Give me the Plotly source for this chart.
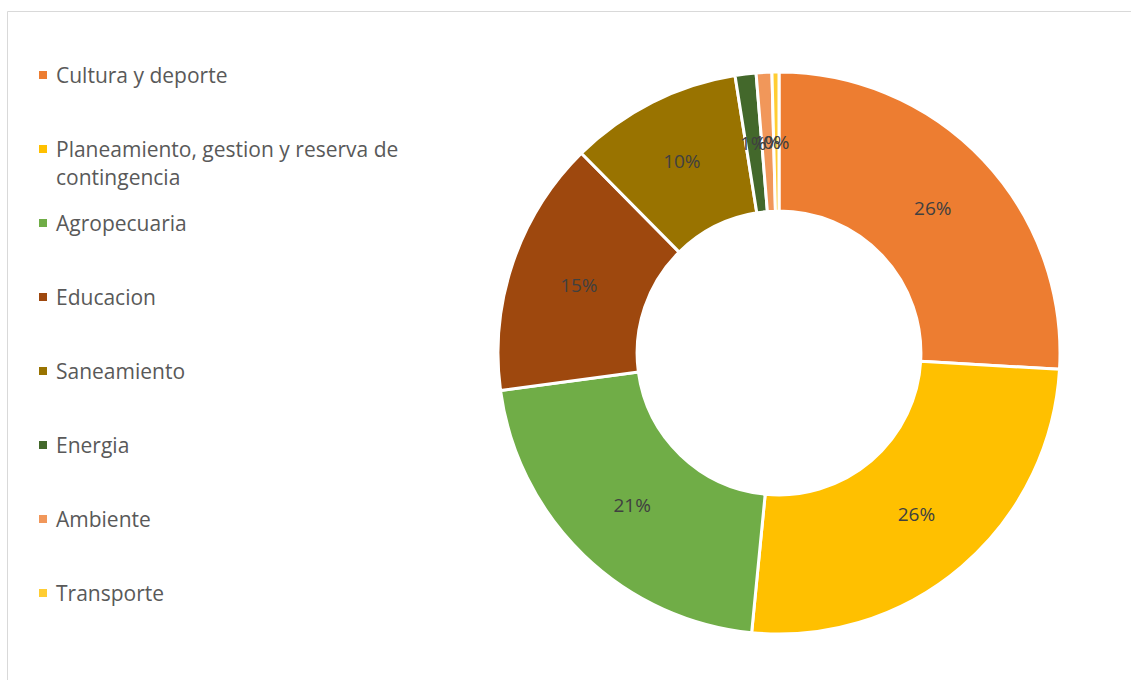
import math
import plotly.graph_objects as go

categories = ["Cultura y deporte", "Planeamiento, gestion y reserva de contingencia",
              "Agropecuaria", "Educacion", "Saneamiento", "Energia", "Ambiente", "Transporte"]
legend_lines = ["Cultura y deporte", "Planeamiento, gestion y reserva de<br>contingencia",
                "Agropecuaria", "Educacion", "Saneamiento", "Energia", "Ambiente", "Transporte"]
values = [25.9, 25.6, 21.3, 14.7, 9.9, 1.2, 0.9, 0.4]
colors = ["#ED7D31", "#FFC000", "#70AD47", "#9E480E", "#997300", "#43682B", "#F1975A", "#FFCD33"]

W, H = 1131, 680
cx, cy, R = 779, 353, 281
HOLE = 0.505
SMALL = 3.0  # slices below this share get their label drawn at mid-ring by annotation

total = sum(values)
templates = ["%{percent:.0%}" if v / total * 100 >= SMALL else "" for v in values]

fig = go.Figure(go.Pie(
    labels=categories, values=values, sort=False, direction="clockwise", rotation=0,
    hole=HOLE, marker=dict(colors=colors, line=dict(color="white", width=3)),
    texttemplate=templates, textposition="inside", insidetextorientation="horizontal",
    textfont=dict(family="Open Sans", size=19, color="#404040"),
    domain=dict(x=[(cx - R) / W, (cx + R) / W], y=[(H - cy - R) / H, (H - cy + R) / H]),
    showlegend=False, hoverinfo="label+percent",
))

shapes = [dict(type="rect", xref="paper", yref="paper", x0=7.5 / W, x1=1.2, y0=-0.2, y1=(H - 11.5) / H,
               line=dict(color="#D9D9D9", width=1), fillcolor="rgba(0,0,0,0)", layer="below")]
annotations = []

# labels of tiny slices, placed at the middle of the ring from the data
cum = 0.0
rmid = R * (1 + HOLE) / 2
for v in values:
    frac = v / total
    mid = (cum + frac / 2) * 2 * math.pi
    cum += frac
    if frac * 100 < SMALL:
        px = cx + rmid * math.sin(mid)
        py = cy - rmid * math.cos(mid)
        annotations.append(dict(text=f"{round(frac * 100):.0f}%", xref="paper", yref="paper",
                                x=px / W, y=(H - py) / H, xanchor="center", yanchor="middle",
                                showarrow=False, font=dict(family="Open Sans", size=19, color="#404040")))

y0, step, lh = 75, 74, 28
for i, (lab, col) in enumerate(zip(legend_lines, colors)):
    yy = y0 + i * step
    shapes.append(dict(type="rect", xref="paper", yref="paper",
                       x0=39 / W, x1=47 / W, y0=(H - yy - 4) / H, y1=(H - yy + 4) / H,
                       line=dict(width=0), fillcolor=col))
    for j, part in enumerate(lab.split("<br>")):
        annotations.append(dict(text=part, xref="paper", yref="paper", x=54 / W, y=(H - yy - j * lh) / H,
                                xanchor="left", yanchor="middle", showarrow=False,
                                font=dict(family="Open Sans", size=21, color="#595959")))

fig.update_layout(
    width=W, height=H, margin=dict(l=0, r=0, t=0, b=0),
    paper_bgcolor="white", plot_bgcolor="white",
    uniformtext=dict(minsize=19, mode="show"),
    shapes=shapes, annotations=annotations,
)
fig.write_html("out.html", config={"displayModeBar": False},
               post_script="document.body.style.margin='0px';")
